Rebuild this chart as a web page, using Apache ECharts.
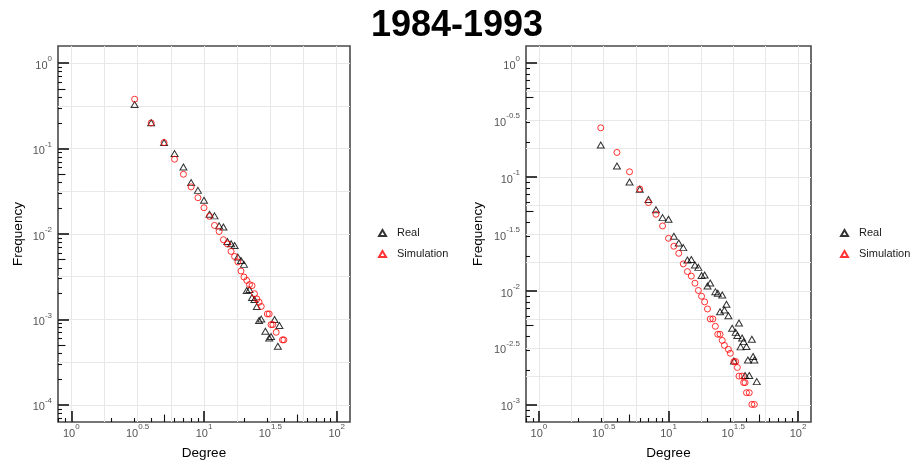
<!DOCTYPE html>
<html>
<head>
<meta charset="utf-8">
<script src="https://cdn.jsdelivr.net/npm/echarts@6/dist/echarts.min.js"></script>
<style>html,body{margin:0;padding:0;background:#fff}#chart{width:914px;height:468px}</style>
</head>
<body>
<div id="chart"></div>
<script>
// ---------------- data (degree, frequency) ----------------
const chartTitle = '1984-1993';
const seriesNames = ['Real', 'Simulation'];

const leftRealDegree = [3,4,5,6,7,8,9,10,11,12,13,14,15,16,17,18,19,20,21,22,23,24,25,26,27,29,31,32,34,36,37];
const leftRealFreq = [0.328,0.200,0.1175,0.0873,0.0608,0.0399,0.0324,0.0248,0.0170,0.0163,0.01245,0.0121,0.00818,0.00769,0.00735,0.00536,0.00490,0.00441,0.00218,0.00224,0.00181,0.00171,0.00142,0.000971,0.00101,0.000728,0.000608,0.000631,0.000998,0.000485,0.000849];

const leftSimDegree = [3,4,5,6,7,8,9,10,11,12,13,14,15,16,17,18,19,20,21,22,23,24,25,26,27,30,31,32,33,35,39,40];
const leftSimFreq = [0.378,0.1995,0.1175,0.0750,0.0500,0.0356,0.0266,0.0203,0.0161,0.0126,0.0107,0.00857,0.00766,0.00625,0.00546,0.00471,0.00369,0.00314,0.00286,0.00256,0.00249,0.00200,0.00174,0.00159,0.00142,0.00116,0.00116,0.000871,0.000871,0.000708,0.000577,0.000577];

const rightRealDegree = [3,4,5,6,7,8,9,10,11,12,13,14,15,16,17,18,19,20,21,23,24,25,26,27,28,29,31,32,33,34,35,36,37,38,39,40,41,42,44,45,46,48];
const rightRealFreq = [0.1909,0.1249,0.0904,0.0780,0.0635,0.0517,0.0440,0.0426,0.0302,0.0264,0.0240,0.0187,0.0189,0.0169,0.0161,0.01368,0.01382,0.01106,0.01175,0.00986,0.00954,0.00658,0.00922,0.00681,0.00764,0.00607,0.00471,0.00243,0.00433,0.00407,0.00524,0.00323,0.00387,0.00359,0.00181,0.00325,0.00248,0.00181,0.00377,0.00266,0.00248,0.00160];

const rightSimDegree = [3,4,5,6,7,8,9,10,11,12,13,14,15,16,17,18,19,20,21,22,23,24,25,26,27,29,30,32,33,34,35,37,38,39,40,42,44,46];
const rightSimFreq = [0.2704,0.1644,0.1112,0.0785,0.0597,0.0471,0.0372,0.0290,0.0247,0.0214,0.0173,0.0148,0.0135,0.0117,0.0101,0.00899,0.00802,0.00695,0.00568,0.00568,0.00490,0.00417,0.00417,0.00368,0.00333,0.00307,0.00284,0.00240,0.00240,0.00213,0.00179,0.00179,0.00157,0.00157,0.00128,0.00128,0.00101,0.00101];

// ---------------- tick labels (log10 exponents) ----------------
const xLabelExp = [0, 0.5, 1, 1.5, 2];
const xGridExp = [0, 0.25, 0.5, 0.75, 1, 1.25, 1.5, 1.75, 2];
const leftYLabelExp = [-4, -3, -2, -1, 0];
const leftYGridExp = [-4, -3.5, -3, -2.5, -2, -1.5, -1, -0.5, 0];
const rightYLabelExp = [-3, -2.5, -2, -1.5, -1, -0.5, 0];
const rightYGridExp = [-3, -2.75, -2.5, -2.25, -2, -1.75, -1.5, -1.25, -1, -0.75, -0.5, -0.25, 0];
const minorMultipliers = [2, 3, 4, 6, 7, 8, 9];
const midMultiplier = 5;

// ---------------- helpers ----------------
const FONT = "'Liberation Sans', Arial, Helvetica, sans-serif";
const L = Math.log10;
const pts = (deg, freq) => deg.map((d, i) => [L(d), L(freq[i])]);

function logTicks(lo, hi) {
  const long = [], mid = [], short = [];
  for (let k = Math.floor(lo) - 1; k <= Math.ceil(hi); k++) {
    if (k >= lo && k <= hi) long.push(k);
    const m = k + L(midMultiplier);
    if (m >= lo && m <= hi) mid.push(m);
    minorMultipliers.forEach(mm => { const v = k + L(mm); if (v >= lo && v <= hi) short.push(v); });
  }
  return { long, mid, short };
}

const rich = {
  b: { fontSize: 11, lineHeight: 16, verticalAlign: 'bottom', color: '#555', fontFamily: FONT },
  s: { fontSize: 8, lineHeight: 9, verticalAlign: 'top', color: '#555', fontFamily: FONT }
};

function makeAxes(dim, gridIndex, min, max, labelVals, gridVals, name, nameGap, labelMargin) {
  const t = logTicks(min, max);
  const pos = dim === 'x' ? 'bottom' : 'left';
  const base = {
    type: 'value', gridIndex, min, max, position: pos,
    axisLine: { show: false, onZero: false }, splitLine: { show: false },
    axisLabel: { show: false }, axisTick: { show: false }
  };
  const axes = [];
  axes.push(Object.assign({}, base, {
    name, nameLocation: 'middle', nameGap,
    nameTextStyle: { fontSize: 13.5, color: '#000', fontFamily: FONT },
    axisLabel: {
      show: true, customValues: labelVals, margin: labelMargin,
      formatter: v => '{b|10}{s|' + v + '}', rich
    },
    axisTick: { show: false, customValues: gridVals },
    splitLine: { show: true, lineStyle: { color: '#e8e8e8', width: 1 } }
  }));
  [[t.long, 11, 1.6], [t.mid, 7.5, 1.1], [t.short, 4, 1.1]].forEach(([vals, len, w]) => {
    axes.push(Object.assign({}, base, {
      axisTick: { show: true, inside: true, length: len, customValues: vals,
                  lineStyle: { color: '#111', width: w } }
    }));
  });
  return axes;
}

const xAxes = [
  ...makeAxes('x', 0, -0.1, 2.1, xLabelExp, xGridExp, 'Degree', 24, 1),
  ...makeAxes('x', 1, -0.1, 2.1, xLabelExp, xGridExp, 'Degree', 24, 1)
];
const yAxes = [
  ...makeAxes('y', 0, -4.2, 0.2, leftYLabelExp, leftYGridExp, 'Frequency', 33, 6),
  ...makeAxes('y', 1, -3.15, 0.15, rightYLabelExp, rightYGridExp, 'Frequency', 41, 6)
];

const realStyle = { color: 'transparent', borderColor: '#000', borderWidth: 1 };
const simStyle = { color: 'transparent', borderColor: '#ff0000', borderWidth: 1 };

function scatter(name, axisIdx, data, isReal) {
  return {
    name, type: 'scatter', xAxisIndex: axisIdx, yAxisIndex: axisIdx, data,
    symbol: isReal ? 'triangle' : 'circle',
    symbolSize: isReal ? [7, 6] : 6,
    itemStyle: isReal ? realStyle : simStyle,
    emphasis: { disabled: true }, silent: true, z: isReal ? 3 : 4
  };
}

const legendBase = {
  orient: 'vertical', top: 227.5, padding: 0, itemWidth: 7, itemHeight: 6, itemGap: 10,
  icon: 'triangle',
  data: [{ name: seriesNames[0], icon: 'triangle' }, { name: seriesNames[1], icon: 'triangle' }],
  textStyle: { fontSize: 11, color: '#1a1a1a', fontFamily: FONT, padding: [0, 0, 0, 6] },
  selectedMode: false
};

const option = {
  animation: false,
  backgroundColor: '#fff',
  title: {
    text: chartTitle, left: 'center', top: 3,
    textStyle: { fontSize: 36, fontWeight: 'bold', color: '#000', fontFamily: FONT }
  },
  legend: [
    Object.assign({}, legendBase, { left: 378 }),
    Object.assign({}, legendBase, { left: 840 })
  ],
  grid: [
    { left: 58, top: 46, width: 292, height: 376, show: true, borderColor: '#4a4a4a', borderWidth: 1.6, backgroundColor: 'transparent' },
    { left: 526, top: 46, width: 285, height: 376, show: true, borderColor: '#4a4a4a', borderWidth: 1.6, backgroundColor: 'transparent' }
  ],
  xAxis: xAxes,
  yAxis: yAxes,
  series: [
    scatter(seriesNames[0], 0, pts(leftRealDegree, leftRealFreq), true),
    scatter(seriesNames[1], 0, pts(leftSimDegree, leftSimFreq), false),
    scatter(seriesNames[0], 4, pts(rightRealDegree, rightRealFreq), true),
    scatter(seriesNames[1], 4, pts(rightSimDegree, rightSimFreq), false)
  ]
};

const chart = echarts.init(document.getElementById('chart'), null, { renderer: 'canvas' });
chart.setOption(option);
</script>
</body>
</html>
